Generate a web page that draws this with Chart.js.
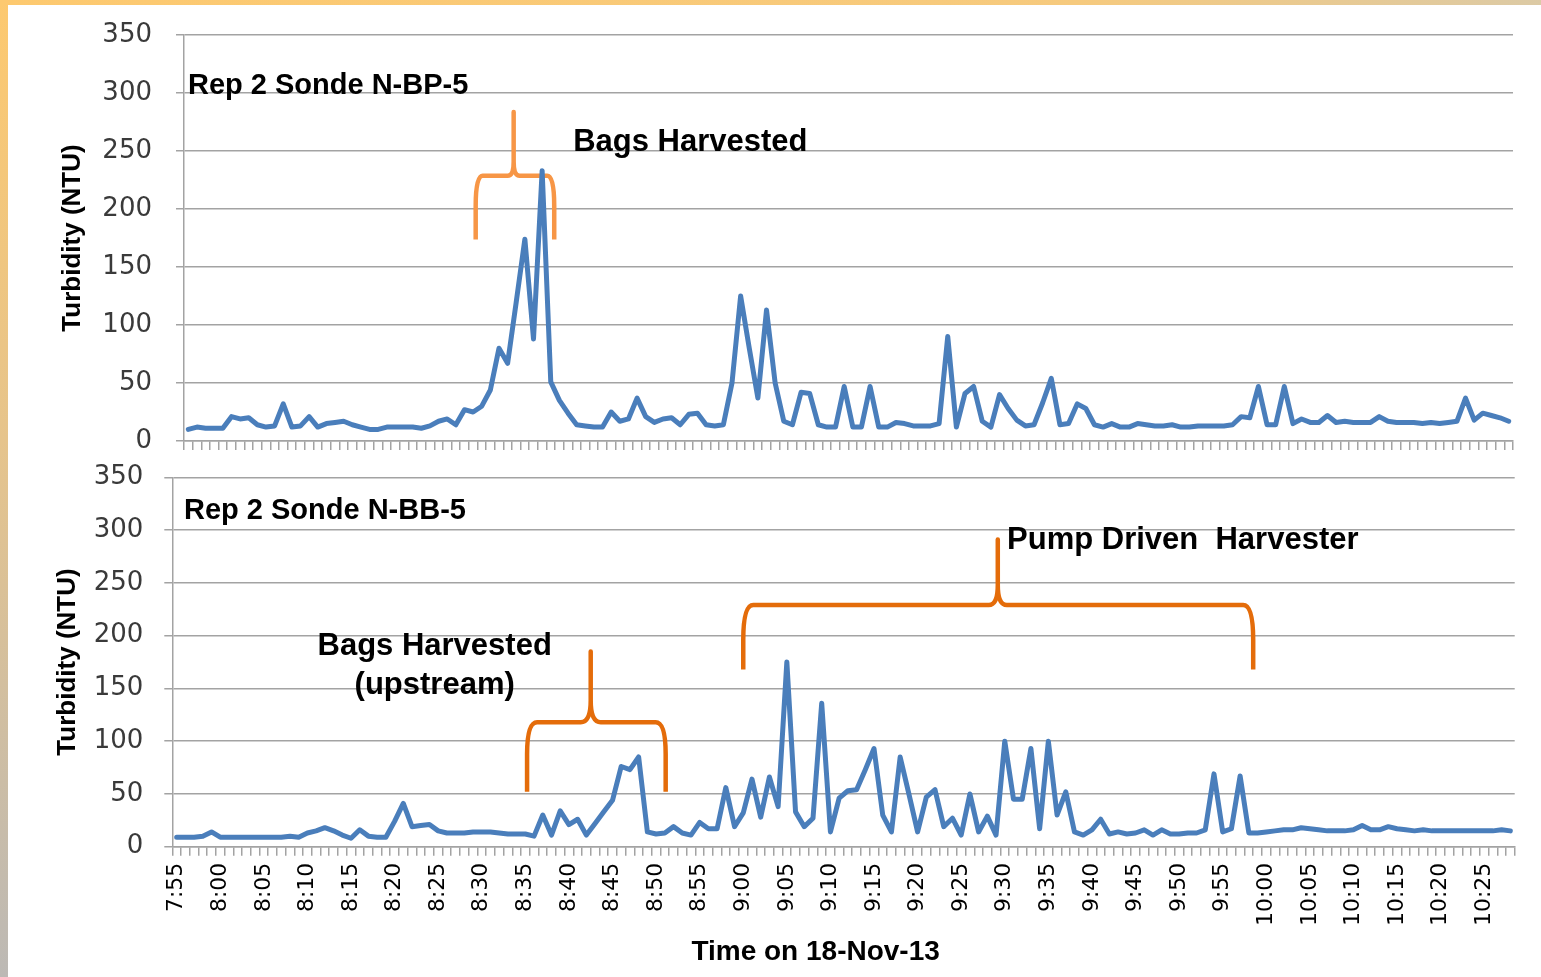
<!DOCTYPE html>
<html><head><meta charset="utf-8">
<script src="https://cdn.jsdelivr.net/npm/chart.js@4.4.1/dist/chart.umd.min.js"></script>
<style>
html,body{margin:0;padding:0;background:#fff;width:1541px;height:977px;overflow:hidden;position:relative}
#c1{position:absolute;left:0;top:0}
#c2{position:absolute;left:0;top:460px}
.fl{position:absolute;left:0;top:0;width:8px;height:977px;background:linear-gradient(#fdc96f,#e6c48c 45%,#bcb9b5)}
.ft{position:absolute;left:0;top:0;width:1541px;height:5px;background:linear-gradient(to right,#fdc96f,#f6ca7e 70%,#dccaa5)}
</style></head><body>
<canvas id="c1" width="1541" height="460"></canvas>
<canvas id="c2" width="1541" height="517"></canvas>
<div class="fl"></div><div class="ft"></div>
<script>
// Categories: one reading per minute, 7:55 to 10:28 on 18-Nov-13
const timeLabels = [
 "7:55","7:56","7:57","7:58","7:59",
 "8:00","8:01","8:02","8:03","8:04","8:05","8:06","8:07","8:08","8:09",
 "8:10","8:11","8:12","8:13","8:14","8:15","8:16","8:17","8:18","8:19",
 "8:20","8:21","8:22","8:23","8:24","8:25","8:26","8:27","8:28","8:29",
 "8:30","8:31","8:32","8:33","8:34","8:35","8:36","8:37","8:38","8:39",
 "8:40","8:41","8:42","8:43","8:44","8:45","8:46","8:47","8:48","8:49",
 "8:50","8:51","8:52","8:53","8:54","8:55","8:56","8:57","8:58","8:59",
 "9:00","9:01","9:02","9:03","9:04","9:05","9:06","9:07","9:08","9:09",
 "9:10","9:11","9:12","9:13","9:14","9:15","9:16","9:17","9:18","9:19",
 "9:20","9:21","9:22","9:23","9:24","9:25","9:26","9:27","9:28","9:29",
 "9:30","9:31","9:32","9:33","9:34","9:35","9:36","9:37","9:38","9:39",
 "9:40","9:41","9:42","9:43","9:44","9:45","9:46","9:47","9:48","9:49",
 "9:50","9:51","9:52","9:53","9:54","9:55","9:56","9:57","9:58","9:59",
 "10:00","10:01","10:02","10:03","10:04","10:05","10:06","10:07","10:08","10:09",
 "10:10","10:11","10:12","10:13","10:14","10:15","10:16","10:17","10:18","10:19",
 "10:20","10:21","10:22","10:23","10:24","10:25","10:26","10:27","10:28"
];
// Tick labels shown on the time axis
const shownTimeLabels = ["7:55","8:00","8:05","8:10","8:15","8:20","8:25","8:30","8:35","8:40","8:45","8:50","8:55",
 "9:00","9:05","9:10","9:15","9:20","9:25","9:30","9:35","9:40","9:45","9:50","9:55",
 "10:00","10:05","10:10","10:15","10:20","10:25"];

// Rep 2 Sonde N-BP-5 turbidity (NTU)
const turbidityBP5 = [
 10,12,11,11,11,21,19,20,14,12,
 13,32,12,13,21,12,15,16,17,14,
 12,10,10,12,12,12,12,11,13,17,
 19,14,27,25,30,44,80,67,120,174,
 88,233,51,35,24,14,13,12,12,25,
 17,19,37,21,16,19,20,14,23,24,
 14,13,14,50,125,80,37,113,50,17,
 14,42,41,14,12,12,47,12,12,47,
 12,12,16,15,13,13,13,15,90,12,
 41,47,17,12,40,28,18,13,14,33,
 54,14,15,32,28,14,12,15,12,12,
 15,14,13,13,14,12,12,13,13,13,
 13,14,21,20,47,14,14,47,15,19,
 16,16,22,16,17,16,16,16,21,17,
 16,16,16,15,16,15,16,17,37,18,
 24,22,20,17
];
// Rep 2 Sonde N-BB-5 turbidity (NTU)
const turbidityBB5 = [
 9,9,9,10,14,9,9,9,9,9,
 9,9,9,10,9,13,15,18,15,11,
 8,16,10,9,9,24,41,19,20,21,
 15,13,13,13,14,14,14,13,12,12,
 12,10,30,11,34,21,26,11,22,33,
 44,76,73,85,14,12,13,19,13,11,
 23,17,17,56,19,32,64,28,66,38,
 175,33,19,27,136,14,46,53,54,73,
 93,30,14,85,50,14,47,54,19,27,
 11,50,14,29,11,100,45,45,93,17,
 100,30,52,14,11,16,26,12,14,12,
 13,16,11,16,12,12,13,13,16,69,
 14,17,67,13,13,14,15,16,16,18,
 17,16,15,15,15,16,20,16,16,19,
 17,16,15,16,15,15,15,15,15,15,
 15,15,16,15
];

const GRID = '#a3a3a3';
const LINE = '#4A7EBB';
const BOLD = "'Liberation Sans', Arial, sans-serif";

function bracePath(ctx, chart, b) {
  const xs = chart.scales.x, ys = chart.scales.y;
  const L = xs.getPixelForValue(b.from), R = xs.getPixelForValue(b.to), T = xs.getPixelForValue(b.tip);
  const yb = ys.getPixelForValue(b.base), yh = ys.getPixelForValue(b.bar), yt = ys.getPixelForValue(b.top);
  ctx.save();
  ctx.strokeStyle = b.color; ctx.lineWidth = b.width;
  ctx.lineJoin = 'round'; ctx.lineCap = 'butt';
  ctx.beginPath();
  ctx.moveTo(L, yb);
  ctx.lineTo(L, yh + b.rv);
  ctx.quadraticCurveTo(L, yh, L + b.rh, yh);
  ctx.lineTo(T - b.sh, yh);
  ctx.quadraticCurveTo(T, yh, T, yh - b.sv);
  ctx.lineTo(T, yt);
  ctx.lineTo(T, yh - b.sv);
  ctx.quadraticCurveTo(T, yh, T + b.sh, yh);
  ctx.lineTo(R - b.rh, yh);
  ctx.quadraticCurveTo(R, yh, R, yh + b.rv);
  ctx.lineTo(R, yb);
  ctx.stroke();
  ctx.restore();
}

const notesPlugin = {
  id: 'notes',
  beforeDatasetsDraw(chart, args, opts) {
    (opts.braces || []).forEach(b => bracePath(chart.ctx, chart, b));
  },
  afterDatasetsDraw(chart, args, opts) {
    const ctx = chart.ctx, xs = chart.scales.x, ys = chart.scales.y;
    (opts.texts || []).forEach(t => {
      ctx.save();
      ctx.font = 'bold ' + t.size + 'px ' + BOLD;
      ctx.fillStyle = '#000';
      ctx.textAlign = t.align;
      ctx.textBaseline = 'middle';
      const x = xs.getPixelForValue(t.x);
      const y = (t.below !== undefined) ? chart.chartArea.bottom + t.below : ys.getPixelForValue(t.y);
      ctx.fillText(t.text, x, y);
      ctx.restore();
    });
  }
};

function makeOptions(c) {
  return {
    responsive: false, animation: false, devicePixelRatio: 1,
    layout: { autoPadding: false, padding: { top: c.padTop, right: c.padRight, left: 0, bottom: 0 } },
    plugins: { legend: { display: false }, tooltip: { enabled: false }, notes: c.notes },
    scales: {
      x: {
        type: 'category', offset: true,
        grid: { offset: true, drawOnChartArea: false, drawTicks: true, tickLength: 9, color: GRID, lineWidth: 1.5 },
        border: { display: true, color: GRID, width: 1.5 },
        ticks: {
          display: c.showX, autoSkip: false, minRotation: 90, maxRotation: 90, padding: 7,
          color: '#000', font: { family: "'DejaVu Sans', sans-serif", size: 22 },
          callback: (v, i) => shownTimeLabels.includes(timeLabels[i]) ? timeLabels[i] : ''
        },
        afterFit: s => { s.height = c.xHeight; s.paddingLeft = 0; s.paddingRight = 0; }
      },
      y: {
        min: 0, max: 350,
        ticks: { stepSize: 50, padding: c.yPad, color: '#3a3a3a', font: { family: "'DejaVu Sans', sans-serif", size: 26 } },
        grid: { color: GRID, lineWidth: 1.5, tickLength: 8 },
        border: { display: true, color: GRID, width: 1.5 },
        title: { display: true, text: 'Turbidity (NTU)', color: '#000',
                 font: { family: BOLD, size: 26, weight: 'bold' }, padding: { top: c.titlePad, bottom: 0 } },
        afterFit: s => { s.width = c.yWidth; s.paddingTop = 0; s.paddingBottom = 0; }
      }
    }
  };
}

function dataset(values) {
  return { data: values, borderColor: LINE, borderWidth: 5, pointRadius: 0, fill: false, tension: 0,
           borderJoinStyle: 'round', borderCapStyle: 'round' };
}

new Chart(document.getElementById('c1'), {
  type: 'line',
  data: { labels: timeLabels, datasets: [dataset(turbidityBP5)] },
  options: makeOptions({
    padTop: 35, padRight: 28, xHeight: 19, yWidth: 184, yPad: 24, titlePad: 57.4, showX: false,
    notes: {
      braces: [
        { from: 33.3, to: 42.4, tip: 37.7, base: 173.7, bar: 228.7, top: 283.7, color: '#F79646', width: 4.5, rh: 7, rv: 30, sh: 6, sv: 14 }
      ],
      texts: [
        { text: 'Rep 2 Sonde N-BP-5', x: -0.04, y: 306, align: 'left', size: 29 },
        { text: 'Bags Harvested', x: 44.6, y: 257, align: 'left', size: 31 }
      ]
    }
  }),
  plugins: [notesPlugin]
});

new Chart(document.getElementById('c2'), {
  type: 'line',
  data: { labels: timeLabels, datasets: [dataset(turbidityBB5)] },
  options: makeOptions({
    padTop: 17.3, padRight: 26.3, xHeight: 130.3, yWidth: 172.3, yPad: 21, titlePad: 52.4, showX: true,
    notes: {
      braces: [
        { from: 40.2, to: 56.1, tip: 47.5, base: 52, bar: 118, top: 185, color: '#E46C0A', width: 4.5, rh: 10, rv: 32, sh: 10, sv: 22 },
        { from: 65.0, to: 123.5, tip: 94.2, base: 168, bar: 229, top: 291, color: '#E46C0A', width: 4.5, rh: 10, rv: 35, sh: 9, sv: 20 }
      ],
      texts: [
        { text: 'Rep 2 Sonde N-BB-5', x: 0.84, y: 318, align: 'left', size: 29 },
        { text: 'Bags Harvested', x: 29.6, y: 190, align: 'center', size: 31 },
        { text: '(upstream)', x: 29.6, y: 153, align: 'center', size: 31 },
        { text: 'Pump Driven  Harvester', x: 95.26, y: 290.6, align: 'left', size: 31 },
        { text: 'Time on 18-Nov-13', x: 73.3, below: 105.3, align: 'center', size: 28 }
      ]
    }
  }),
  plugins: [notesPlugin]
});
</script>
</body></html>
